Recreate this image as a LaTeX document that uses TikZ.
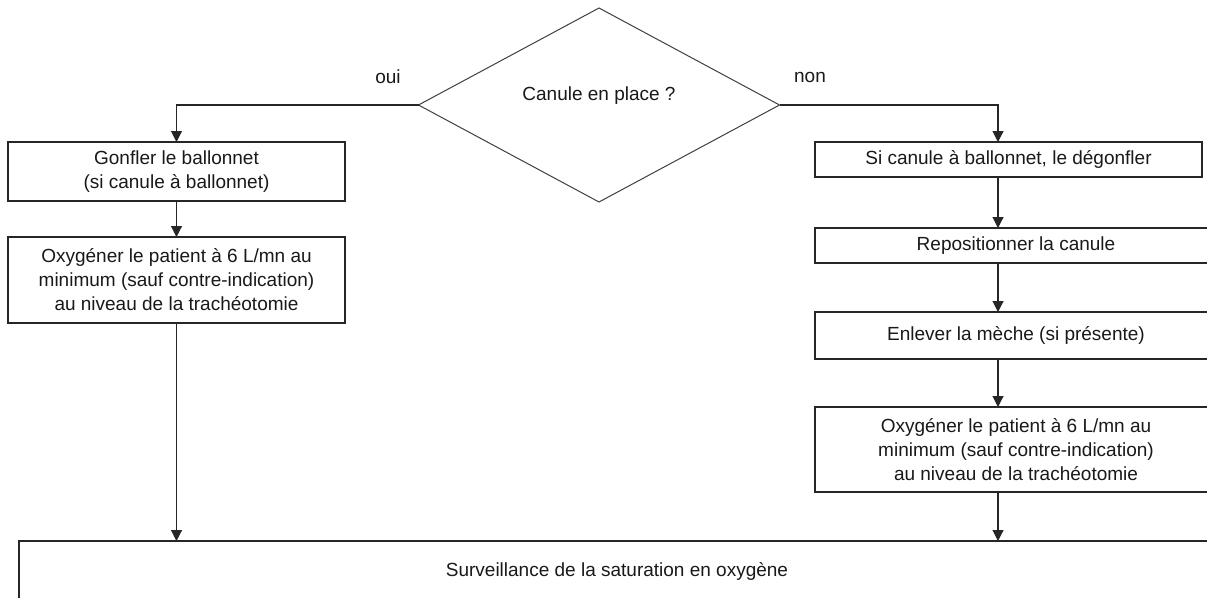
\documentclass[tikz,border=0pt]{standalone}
\usepackage{fontspec}
\setmainfont{Liberation Sans}
\usetikzlibrary{shapes.geometric,arrows.meta}
\begin{document}
\begin{tikzpicture}[x=1pt,y=-1pt,
  every node/.style={font=\fontsize{19}{24}\selectfont, text=black!90},
  box/.style={draw=black!85, line width=1.1pt, rectangle, inner sep=0pt, outer sep=0pt, align=center},
  dec/.style={draw=black!75, line width=1pt, diamond, inner sep=0pt, outer sep=0pt},
  lbl/.style={inner sep=0pt, align=center},
  arr/.style={draw=black!85, line width=1.1pt, -{Triangle[length=11pt,width=11pt]}},
  ln/.style={draw=black!85, line width=1.1pt}]
\useasboundingbox (0,0) rectangle (1207,597);
\clip (0,0) rectangle (1207,597);
\fill[white] (0,0) rectangle (1207,597);

% decision
\node[dec, minimum width=361pt, minimum height=194pt] (dia) at (599,105) {};
\node[lbl] (diat) at (599,96) {Canule en place ?};
\node[lbl] (oui) at (388,77) {oui};
\node[lbl] (non) at (810,77) {non};

% left column
\node[box, minimum width=337pt, minimum height=59pt] (l1) at (176.5,171.5)
  {Gonfler le ballonnet\\(si canule à ballonnet)};
\node[box, minimum width=337pt, minimum height=86pt] (l2) at (176.5,280)
  {Oxygéner le patient à 6 L/mn au\\minimum (sauf contre-indication)\\au niveau de la trachéotomie};

% right column
\coordinate (rx) at (998,0);
\node[box, minimum width=387pt, minimum height=35pt] (r1) at (1008.5,159.5)
  {Si canule à ballonnet, le dégonfler};
\node[box, minimum width=402pt, minimum height=35pt] (r2) at (1016,245.5)
  {Repositionner la canule};
\node[box, minimum width=402pt, minimum height=47pt] (r3) at (1016,335.5)
  {Enlever la mèche (si présente)};
\node[box, minimum width=402pt, minimum height=85pt] (r4) at (1016,449.5)
  {Oxygéner le patient à 6 L/mn au\\minimum (sauf contre-indication)\\au niveau de la trachéotomie};

% bottom
\node[box, minimum width=1250pt, minimum height=120pt, anchor=north west] (bot) at (19,541) {};
\node[lbl] (bott) at (617,571) {Surveillance de la saturation en oxygène};

% connectors
\draw[arr] (dia.west) -| (l1.north);
\draw[arr] (l1.south) -- (l2.north);
\draw[arr] (l2.south) -- (l2.south |- bot.north);

\draw[arr] (dia.east) -| (r1.north -| rx);
\draw[arr] (r1.south -| rx) -- (r2.north -| rx);
\draw[arr] (r2.south -| rx) -- (r3.north -| rx);
\draw[arr] (r3.south -| rx) -- (r4.north -| rx);
\draw[arr] (r4.south -| rx) -- (bot.north -| rx);
\end{tikzpicture}
\end{document}
